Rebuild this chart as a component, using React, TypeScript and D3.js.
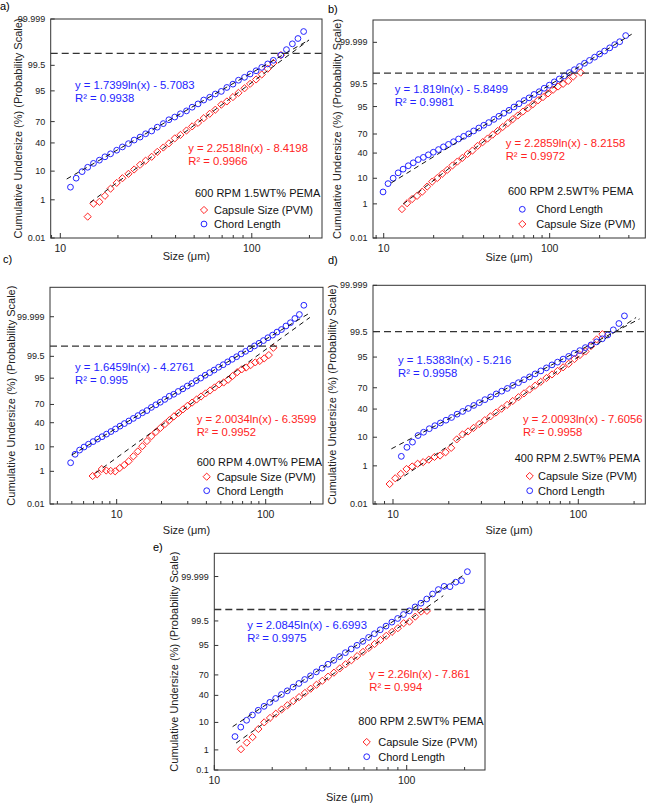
import * as d3 from 'd3';

// ---------- a) 600 RPM 1.5WT% PEMA ----------
const aChordSize = [11.3, 12.1, 13.0, 13.9, 14.9, 16.0, 17.1, 18.3, 19.7, 21.1, 22.7, 24.3, 26.1, 27.9, 30.0, 32.1, 34.5, 36.9, 39.6, 42.4, 45.6, 48.8, 52.4, 56.1, 60.3, 64.5, 69.3, 74.1, 79.7, 85.2, 91.6, 98.0, 105.3, 112.7, 121.1, 129.6, 141.7, 151.7, 162.9, 174.2, 186.5];
const aChordPct = [3.1, 6.2, 9.7, 12.7, 15.9, 18.9, 22.4, 25.8, 30.2, 34.5, 39.0, 44.1, 48.4, 53.2, 57.2, 62.6, 67.4, 72.3, 75.5, 79.1, 82.0, 85.3, 87.9, 90.5, 92.1, 93.7, 94.8, 96.16, 97.06, 97.9, 98.38, 98.81, 99.13, 99.38, 99.57, 99.71, 99.84, 99.918, 99.961, 99.981, 99.993];
const aCapsuleSize = [13.9, 14.9, 16.0, 17.1, 18.3, 19.7, 21.1, 22.7, 24.3, 26.1, 27.9, 30.0, 32.1, 34.5, 36.9, 39.6, 42.4, 45.6, 48.8, 52.4, 56.1, 60.3, 64.5, 69.3, 74.1, 79.7, 85.2, 91.6, 98.0, 105.3, 112.7, 121.1, 129.6, 142.1];
const aCapsulePct = [0.164, 0.68, 0.82, 1.46, 2.74, 4.36, 6.18, 8.38, 11.1, 14.7, 18.4, 22.4, 28.1, 33.7, 39.4, 46.5, 51.6, 57.9, 63.7, 68.4, 74.2, 79.1, 83.1, 87.3, 89.6, 92.2, 94.2, 95.9, 97.13, 98.03, 98.75, 99.29, 99.61, 99.84];

// ---------- b) 600 RPM 2.5WT% PEMA ----------
const bChordSize = [9.91, 10.62, 11.40, 12.22, 13.09, 14.06, 15.07, 16.14, 17.34, 18.58, 19.91, 21.38, 22.91, 24.55, 26.36, 28.25, 30.34, 32.51, 34.83, 37.41, 40.09, 42.95, 46.13, 49.43, 52.97, 56.89, 60.95, 65.31, 70.15, 75.16, 80.54, 86.50, 92.68, 99.54, 106.7, 114.3, 122.7, 131.5, 140.9, 151.4, 162.2, 173.8, 186.6, 200.0, 214.3, 230.1, 246.6, 264.2, 287.1];
const bChordPct = [3.29, 6.68, 10.03, 14.46, 18.14, 22.06, 25.78, 30.15, 33.4, 37.3, 41.3, 45.6, 50.0, 54.0, 58.3, 62.6, 66.6, 70.2, 74.2, 77.9, 81.1, 83.9, 86.9, 89.4, 91.5, 93.2, 94.8, 96.08, 97.06, 97.72, 98.38, 98.78, 99.16, 99.41, 99.60, 99.72, 99.813, 99.878, 99.918, 99.948, 99.9675, 99.979, 99.9874, 99.99247, 99.99539, 99.99733, 99.99848, 99.99911, 99.99972];
const bCapsuleSize = [12.88, 13.84, 14.83, 15.89, 17.06, 18.28, 19.59, 21.04, 22.54, 24.15, 25.94, 27.80, 29.79, 31.99, 34.28, 36.81, 39.45, 42.27, 45.39, 48.64, 52.12, 55.98, 59.98, 64.27, 69.02, 73.96, 79.25, 85.11, 91.20, 97.72, 104.95, 112.46, 120.5, 129.4, 138.7, 153.8];
const bCapsulePct = [0.554, 1.072, 1.66, 2.275, 3.36, 5.26, 7.78, 10.2, 13.57, 17.36, 22.36, 27.43, 32.64, 38.59, 44.04, 51.6, 57.5, 63.3, 69.15, 74.2, 79.1, 83.4, 87.08, 89.97, 92.5, 94.3, 95.9, 97.13, 97.88, 98.54, 99.01, 99.31, 99.49, 99.643, 99.795, 99.878];

// ---------- c) 600 RPM 4.0WT% PEMA ----------
const cChordSize = [4.91, 5.26, 5.64, 6.04, 6.47, 6.95, 7.45, 7.98, 8.55, 9.16, 9.82, 10.52, 11.27, 12.08, 12.94, 13.90, 14.89, 15.96, 17.10, 18.32, 19.63, 21.04, 22.54, 24.15, 25.88, 27.80, 29.79, 31.92, 34.20, 36.64, 39.26, 42.07, 45.08, 48.31, 51.88, 55.59, 59.57, 63.83, 68.39, 73.28, 78.52, 84.14, 90.16, 96.61, 103.5, 111.2, 119.1, 127.6, 136.8, 146.6, 157.0, 168.3, 180.3];
const cChordPct = [2.50, 5.48, 7.78, 9.85, 12.1, 14.46, 17.1, 19.77, 22.96, 26.43, 30.15, 34.46, 38.59, 42.86, 47.21, 51.99, 56.75, 60.4, 65.54, 69.5, 73.24, 77.04, 80.9, 83.15, 85.99, 88.3, 90.49, 92.22, 93.82, 95.05, 96.16, 96.99, 97.67, 98.26, 98.68, 99.036, 99.286, 99.477, 99.632, 99.736, 99.813, 99.874, 99.913, 99.942, 99.9624, 99.975, 99.9847, 99.990, 99.99456, 99.99696, 99.99861, 99.99935, 99.9999];
const cCapsuleSize = [6.90, 7.40, 7.94, 8.51, 9.12, 9.77, 10.49, 11.25, 12.05, 12.94, 13.87, 14.86, 15.96, 17.10, 18.32, 19.68, 21.09, 22.59, 24.21, 26.00, 27.86, 29.85, 32.06, 34.36, 36.81, 39.45, 42.36, 45.39, 48.64, 52.24, 55.98, 59.98, 64.42, 69.02, 73.96, 79.25, 85.11, 91.20, 97.72, 104.95, 112.5];
const cCapsulePct = [0.577, 0.705, 1.29, 1.10, 1.05, 1.0, 1.45, 2.0, 2.9, 4.6, 7.0, 10.5, 15.0, 20.3, 25.8, 31.8, 37.8, 44.3, 50.6, 56.6, 62.4, 67.9, 72.7, 76.9, 80.6, 84.0, 86.9, 89.44, 91.62, 92.79, 94.29, 95.91, 97.13, 97.83, 98.21, 98.61, 98.98, 99.13, 99.36, 99.573, 99.836];

// ---------- d) 400 RPM 2.5WT% PEMA ----------
const dChordSize = [11.09, 11.89, 12.74, 13.65, 14.62, 15.70, 16.83, 18.03, 19.32, 20.70, 22.18, 23.77, 25.47, 27.29, 29.24, 31.33, 33.65, 36.06, 38.64, 41.40, 44.36, 47.53, 50.93, 54.58, 58.48, 62.81, 67.30, 72.11, 77.27, 82.79, 88.72, 95.06, 101.9, 109.1, 117.2, 125.6, 134.6, 144.2, 154.5, 165.6, 177.4];
const dChordPct = [2.39, 4.95, 7.21, 11.12, 13.57, 16.6, 19.49, 22.36, 25.46, 28.77, 33.0, 36.69, 40.9, 45.22, 49.2, 53.59, 57.53, 61.79, 65.54, 69.15, 72.91, 76.11, 79.39, 82.12, 84.85, 87.29, 89.44, 91.31, 92.79, 94.18, 95.25, 96.25, 97.0, 97.67, 98.17, 98.61, 98.96, 99.29, 99.585, 99.795, 99.918];
const dCapsuleSize = [9.59, 10.28, 11.02, 11.83, 12.68, 13.58, 14.55, 15.60, 16.75, 17.95, 19.23, 20.61, 22.08, 23.71, 25.41, 27.23, 29.17, 31.26, 33.57, 35.97, 38.55, 41.30, 44.26, 47.53, 50.93, 54.58, 58.48, 62.66, 67.30, 72.11, 77.27, 82.79, 88.72, 95.28, 102.1, 109.4, 117.2, 125.6, 134.9];
const dCapsulePct = [0.14, 0.272, 0.44, 0.734, 0.939, 1.222, 1.426, 1.786, 2.275, 2.559, 3.362, 4.746, 8.69, 11.9, 14.23, 17.36, 21.19, 25.46, 30.15, 35.2, 40.52, 46.02, 51.6, 57.14, 62.55, 67.72, 72.57, 77.04, 81.06, 84.38, 87.29, 89.8, 91.92, 94.18, 95.73, 96.78, 97.98, 98.9, 99.34];

// ---------- e) 800 RPM 2.5WT% PEMA ----------
const eChordSize = [12.81, 13.73, 14.72, 15.78, 16.92, 18.14, 19.44, 20.84, 22.34, 23.95, 25.68, 27.53, 29.51, 31.63, 33.91, 36.35, 38.97, 41.78, 44.79, 48.01, 51.47, 55.17, 59.15, 63.41, 67.97, 72.87, 78.11, 83.74, 89.77, 96.23, 103.2, 110.6, 118.6, 127.1, 136.3, 146.1, 156.6, 167.9, 179.9, 192.9, 206.8];
const eChordPct = [3.44, 7.21, 11.51, 15.87, 20.61, 25.14, 30.15, 35.57, 41.29, 46.81, 52.39, 57.93, 63.68, 68.79, 73.89, 78.23, 82.38, 85.99, 88.88, 91.47, 93.45, 95.05, 96.41, 97.44, 98.17, 98.75, 99.134, 99.43, 99.621, 99.76, 99.846, 99.9065, 99.9423, 99.9675, 99.9841, 99.9918, 99.995, 99.99478, 99.99744, 99.998, 99.99957];
const eCapsuleSize = [13.76, 14.75, 15.81, 16.95, 18.17, 19.48, 20.88, 22.39, 24.00, 25.73, 27.58, 29.57, 31.70, 33.98, 36.43, 39.05, 41.87, 44.88, 48.11, 51.58, 55.29, 59.27, 63.53, 68.11, 73.02, 78.28, 83.92, 89.95, 96.43, 103.4, 110.8, 118.8, 127.4];
const eCapsulePct = [1.072, 2.018, 3.288, 6.3, 10.03, 13.35, 17.11, 21.48, 26.43, 31.92, 37.45, 43.64, 50.0, 55.96, 61.79, 67.72, 72.91, 77.94, 82.38, 85.99, 89.25, 91.92, 93.94, 95.54, 96.78, 97.78, 98.46, 98.928, 99.361, 99.461, 99.693, 99.831, 99.846];

// fitted lines: [slope, intercept, R²] in probit units against ln(size)
const aChordFit = [1.7399, -5.7083, 0.9938];
const aCapsuleFit = [2.2518, -8.4198, 0.9966];
const bChordFit = [1.819, -5.8499, 0.9981];
const bCapsuleFit = [2.2859, -8.2158, 0.9972];
const cChordFit = [1.6459, -4.2761, 0.995];
const cCapsuleFit = [2.0034, -6.3599, 0.9952];
const dChordFit = [1.5383, -5.216, 0.9958];
const dCapsuleFit = [2.0093, -7.6056, 0.9958];
const eChordFit = [2.0845, -6.6993, 0.9975];
const eCapsuleFit = [2.26, -7.861, 0.994];

const yTickLabels = [0.01, 1, 10, 40, 70, 95, 99.5, 99.999];
const yTickLabelsE = [0.1, 1, 10, 40, 70, 95, 99.5, 99.999];

const FONT = '"Liberation Sans", Arial, Helvetica, sans-serif';
const BLUE = '#2424ff';
const RED = '#ff2323';

// inverse standard normal CDF (Acklam)
function probit(p: number): number {
  const a = [-39.69683028665376, 220.9460984245205, -275.9285104469687, 138.357751867269, -30.66479806614716, 2.506628277459239];
  const b = [-54.47609879822406, 161.5858368580409, -155.6989798598866, 66.80131188771972, -13.28068155288572];
  const c = [-0.007784894002430293, -0.3223964580411365, -2.400758277161838, -2.549732539343734, 4.374664141464968, 2.938163982698783];
  const d = [0.007784695709041462, 0.3224671290700398, 2.445134137142996, 3.754408661907416];
  const plow = 0.02425;
  if (p < plow) {
    const q = Math.sqrt(-2 * Math.log(p));
    return (((((c[0] * q + c[1]) * q + c[2]) * q + c[3]) * q + c[4]) * q + c[5]) /
      ((((d[0] * q + d[1]) * q + d[2]) * q + d[3]) * q + 1);
  }
  if (p > 1 - plow) {
    const q = Math.sqrt(-2 * Math.log(1 - p));
    return -(((((c[0] * q + c[1]) * q + c[2]) * q + c[3]) * q + c[4]) * q + c[5]) /
      ((((d[0] * q + d[1]) * q + d[2]) * q + d[3]) * q + 1);
  }
  const q = p - 0.5;
  const r = q * q;
  return (((((a[0] * r + a[1]) * r + a[2]) * r + a[3]) * r + a[4]) * r + a[5]) * q /
    (((((b[0] * r + b[1]) * r + b[2]) * r + b[3]) * r + b[4]) * r + 1);
}

type Kind = 'circle' | 'diamond';

interface Series {
  label: string;
  kind: Kind;
  color: string;
  size: number[];
  pct: number[];
  fit: number[];
  fitRange: [number, number];
  eqPos: [number, number];
}

interface PanelSpec {
  tag: string;
  tagPos: [number, number];
  box: [number, number, number, number];
  xDomain: [number, number];
  yDomain: [number, number];
  yTicks: number[];
  cut: number;
  title: string;
  titlePos: [number, number];
  legendX: number;
  legendTextX: number;
  legendRows: [number, number];
  series: Series[]; // legend order
  xTitleY: number;
  yTitleX: number;
}

const chord = (size: number[], pct: number[], fit: number[], fitRange: [number, number], eqPos: [number, number]): Series =>
  ({ label: 'Chord Length', kind: 'circle', color: BLUE, size, pct, fit, fitRange, eqPos });
const capsule = (size: number[], pct: number[], fit: number[], fitRange: [number, number], eqPos: [number, number]): Series =>
  ({ label: 'Capsule Size (PVM)', kind: 'diamond', color: RED, size, pct, fit, fitRange, eqPos });

const panels: PanelSpec[] = [
  {
    tag: 'a)', tagPos: [0, 10], box: [50.7, 19, 322, 238],
    xDomain: [8.91, 232.6], yDomain: [0.01, 99.999], yTicks: yTickLabels, cut: 99.87,
    title: '600 RPM 1.5WT% PEMA', titlePos: [195, 197],
    legendX: 204, legendTextX: 214, legendRows: [210, 224],
    series: [
      capsule(aCapsuleSize, aCapsulePct, aCapsuleFit, [14.3, 199], [188.3, 152]),
      chord(aChordSize, aChordPct, aChordFit, [10.8, 199], [75, 89]),
    ],
    xTitleY: 255.5, yTitleX: 18,
  },
  {
    tag: 'b)', tagPos: [328, 13], box: [373, 20, 645.3, 238],
    xDomain: [8.62, 376.9], yDomain: [0.01, 99.9999887], yTicks: yTickLabels, cut: 99.87,
    title: '600 RPM 2.5WT% PEMA', titlePos: [508, 195],
    legendX: 522.3, legendTextX: 536.3, legendRows: [209.3, 224],
    series: [
      chord(bChordSize, bChordPct, bChordFit, [11.1, 312], [394.7, 93.3]),
      capsule(bCapsuleSize, bCapsulePct, bCapsuleFit, [13.1, 140], [505.7, 146.7]),
    ],
    xTitleY: 256.7, yTitleX: 336.5,
  },
  {
    tag: 'c)', tagPos: [3, 263], box: [50, 287.3, 323, 504],
    xDomain: [3.57, 242.4], yDomain: [0.01, 99.9999983], yTicks: yTickLabels, cut: 99.87,
    title: '600 RPM 4.0WT% PEMA', titlePos: [196.7, 466],
    legendX: 206.7, legendTextX: 216.7, legendRows: [476.7, 490.7],
    series: [
      capsule(cCapsuleSize, cCapsulePct, cCapsuleFit, [7.2, 198], [196.7, 423.3]),
      chord(cChordSize, cChordPct, cChordFit, [4.99, 198], [75, 370.7]),
    ],
    xTitleY: 530, yTitleX: 10.5,
  },
  {
    tag: 'd)', tagPos: [328, 264], box: [373, 285.3, 645.3, 504],
    xDomain: [7.8, 229.9], yDomain: [0.01, 99.999], yTicks: yTickLabels, cut: 99.5,
    title: '400 RPM 2.5WT% PEMA', titlePos: [514.7, 461.7],
    legendX: 529.7, legendTextX: 538, legendRows: [476, 490.7],
    series: [
      capsule(dCapsuleSize, dCapsulePct, dCapsuleFit, [10.5, 205], [523, 422.7]),
      chord(dChordSize, dChordPct, dChordFit, [9.8, 214], [398, 364.3]),
    ],
    xTitleY: 530, yTitleX: 331.5,
  },
  {
    tag: 'e)', tagPos: [153, 551], box: [214.3, 553.3, 485, 770],
    xDomain: [10, 255.3], yDomain: [0.1, 99.9999868], yTicks: yTickLabelsE, cut: 99.87,
    title: '800 RPM 2.5WT% PEMA', titlePos: [358.3, 725],
    legendX: 366.7, legendTextX: 378.3, legendRows: [742, 756.7],
    series: [
      capsule(eCapsuleSize, eCapsulePct, eCapsuleFit, [12.97, 155], [369.3, 677.5]),
      chord(eChordSize, eChordPct, eChordFit, [12.45, 195], [247.3, 629]),
    ],
    xTitleY: 796.5, yTitleX: 174,
  },
];

function Marker({ kind, x, y, color }: { kind: Kind; x: number; y: number; color: string }) {
  if (kind === 'circle') {
    return <circle cx={x} cy={y} r={2.9} fill="none" stroke={color} strokeWidth={1} />;
  }
  const r = 3.6;
  return (
    <path
      d={`M${x},${y - r}L${x + r},${y}L${x},${y + r}L${x - r},${y}Z`}
      fill="none"
      stroke={color}
      strokeWidth={1}
    />
  );
}

function Panel({ spec }: { spec: PanelSpec }) {
  const [left, top, right, bottom] = spec.box;
  const x = d3.scaleLog().domain(spec.xDomain).range([left, right]);
  const y = d3.scaleLinear()
    .domain(spec.yDomain.map(p => probit(p / 100)))
    .range([bottom, top]);
  const yPct = (pct: number) => y(probit(pct / 100));

  const xTicks = x.ticks();
  const isMajor = (v: number) => Math.abs(Math.log10(v) - Math.round(Math.log10(v))) < 1e-9;
  const cx = (left + right) / 2;
  const cy = (top + bottom) / 2;

  return (
    <g>
      <text x={spec.tagPos[0]} y={spec.tagPos[1]} fontSize={11}>{spec.tag}</text>

      {/* markers */}
      {spec.series.map(s => (
        <g key={s.label}>
          {s.size.map((v, i) => (
            <Marker key={i} kind={s.kind} x={x(v)} y={yPct(s.pct[i])} color={s.color} />
          ))}
        </g>
      ))}

      {/* fitted lines */}
      {spec.series.map(s => {
        const [slope, icpt] = s.fit;
        const [x0, x1] = s.fitRange;
        return (
          <line
            key={s.label + '-fit'}
            x1={x(x0)} y1={y(slope * Math.log(x0) + icpt)}
            x2={x(x1)} y2={y(slope * Math.log(x1) + icpt)}
            stroke="#111" strokeWidth={1} strokeDasharray="5,4"
          />
        );
      })}

      {/* horizontal reference level */}
      <line x1={left} x2={right} y1={yPct(spec.cut)} y2={yPct(spec.cut)}
        stroke="#333" strokeWidth={1.3} strokeDasharray="7,4" />

      {/* frame */}
      <rect x={left} y={top} width={right - left} height={bottom - top}
        fill="none" stroke="#333" strokeWidth={1} />

      {/* x axis */}
      {xTicks.map(v => (
        <line key={'xt' + v} x1={x(v)} x2={x(v)} y1={bottom} y2={bottom - (isMajor(v) ? 5 : 3)}
          stroke="#333" strokeWidth={1} />
      ))}
      {xTicks.filter(isMajor).map(v => (
        <text key={'xl' + v} x={x(v)} y={bottom + 13.5} fontSize={10.5} textAnchor="middle" fill="#222">
          {v}
        </text>
      ))}
      <text x={cx} y={spec.xTitleY} fontSize={11} textAnchor="middle" dominantBaseline="central" fill="#222">
        Size (μm)
      </text>

      {/* y axis */}
      {spec.yTicks.map(v => (
        <g key={'yt' + v}>
          <line x1={left} x2={left + 4} y1={yPct(v)} y2={yPct(v)} stroke="#333" strokeWidth={1} />
          <text x={left - 5.5} y={yPct(v)} fontSize={9} textAnchor="end" dominantBaseline="central" fill="#222">
            {v}
          </text>
        </g>
      ))}
      <text
        transform={`translate(${spec.yTitleX},${cy}) rotate(-90)`}
        fontSize={11} textAnchor="middle" dominantBaseline="central" fill="#222"
      >
        Cumulative Undersize (%) (Probability Scale)
      </text>

      {/* equations */}
      {spec.series.map(s => (
        <g key={s.label + '-eq'} fill={s.color} fontSize={11.3}>
          <text x={s.eqPos[0]} y={s.eqPos[1]}>
            {`y = ${s.fit[0]}ln(x) - ${Math.abs(s.fit[1])}`}
          </text>
          <text x={s.eqPos[0]} y={s.eqPos[1] + 13}>{`R² = ${s.fit[2]}`}</text>
        </g>
      ))}

      {/* legend */}
      <text x={spec.titlePos[0]} y={spec.titlePos[1]} fontSize={11} fill="#111">{spec.title}</text>
      {spec.series.map((s, i) => (
        <g key={s.label + '-lg'}>
          <Marker kind={s.kind} x={spec.legendX} y={spec.legendRows[i]} color={s.color} />
          <text x={spec.legendTextX} y={spec.legendRows[i] + 4} fontSize={11} fill="#111">{s.label}</text>
        </g>
      ))}
    </g>
  );
}

export default function App() {
  return (
    <svg
      width={646}
      height={803}
      style={{ position: 'absolute', left: 0, top: 0, background: '#fff' }}
      fontFamily={FONT}
    >
      {panels.map(p => <Panel key={p.tag} spec={p} />)}
    </svg>
  );
}
